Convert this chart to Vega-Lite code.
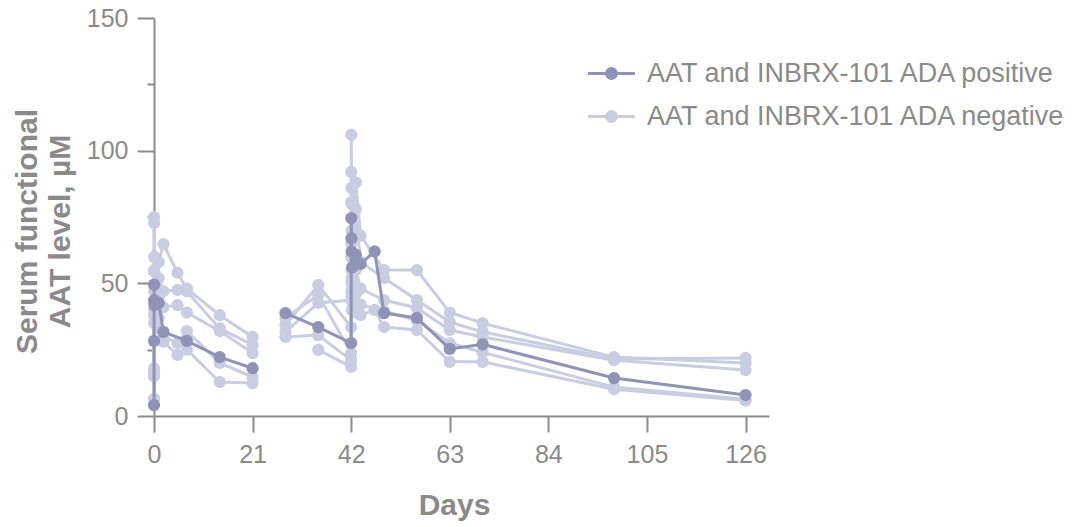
{
  "$schema": "https://vega.github.io/schema/vega-lite/v6.json",
  "width": 615,
  "height": 398,
  "autosize": {"type": "none"},
  "padding": {"left": 154, "top": 18, "right": 305, "bottom": 111},
  "background": "white",
  "config": {
    "view": {"stroke": null},
    "font": "Liberation Sans",
    "axis": {
      "domainColor": "#8c8c8c",
      "domainWidth": 2,
      "tickColor": "#8c8c8c",
      "tickWidth": 2,
      "grid": false,
      "labelFlush": false,
      "labelFont": "Liberation Sans",
      "labelFontSize": 25,
      "labelColor": "#8a8a8a",
      "titleFont": "Liberation Sans",
      "titleFontSize": 30,
      "titleFontWeight": "bold",
      "titleColor": "#8a8a8a"
    }
  },
  "data": {
    "values": [
      {"g": "Pa", "s": "AAT and INBRX-101 ADA positive", "d": 0, "v": 4.1},
      {"g": "Pa", "s": "AAT and INBRX-101 ADA positive", "d": 0.01, "v": 28.3},
      {"g": "Pa", "s": "AAT and INBRX-101 ADA positive", "d": 0.02, "v": 49.5},
      {"g": "Pa", "s": "AAT and INBRX-101 ADA positive", "d": 0.04, "v": 43.7},
      {"g": "Pa", "s": "AAT and INBRX-101 ADA positive", "d": 0.08, "v": 41.8},
      {"g": "Pa", "s": "AAT and INBRX-101 ADA positive", "d": 1, "v": 42.6},
      {"g": "Pa", "s": "AAT and INBRX-101 ADA positive", "d": 2, "v": 31.7},
      {"g": "Pa", "s": "AAT and INBRX-101 ADA positive", "d": 7, "v": 28.3},
      {"g": "Pa", "s": "AAT and INBRX-101 ADA positive", "d": 14, "v": 22.2},
      {"g": "Pa", "s": "AAT and INBRX-101 ADA positive", "d": 21, "v": 18},
      {"g": "Pb", "s": "AAT and INBRX-101 ADA positive", "d": 28, "v": 38.8},
      {"g": "Pb", "s": "AAT and INBRX-101 ADA positive", "d": 35, "v": 33.5},
      {"g": "Pb", "s": "AAT and INBRX-101 ADA positive", "d": 42, "v": 27.5},
      {"g": "Pb", "s": "AAT and INBRX-101 ADA positive", "d": 42.02, "v": 74.6},
      {"g": "Pb", "s": "AAT and INBRX-101 ADA positive", "d": 42.05, "v": 67},
      {"g": "Pb", "s": "AAT and INBRX-101 ADA positive", "d": 42.1, "v": 62},
      {"g": "Pb", "s": "AAT and INBRX-101 ADA positive", "d": 42.2, "v": 56},
      {"g": "Pb", "s": "AAT and INBRX-101 ADA positive", "d": 43, "v": 60.7},
      {"g": "Pb", "s": "AAT and INBRX-101 ADA positive", "d": 44, "v": 57.3},
      {"g": "Pb", "s": "AAT and INBRX-101 ADA positive", "d": 47, "v": 62},
      {"g": "Pb", "s": "AAT and INBRX-101 ADA positive", "d": 49, "v": 38.8},
      {"g": "Pb", "s": "AAT and INBRX-101 ADA positive", "d": 56, "v": 37},
      {"g": "Pb", "s": "AAT and INBRX-101 ADA positive", "d": 63, "v": 25.3},
      {"g": "Pb", "s": "AAT and INBRX-101 ADA positive", "d": 70, "v": 27},
      {"g": "Pb", "s": "AAT and INBRX-101 ADA positive", "d": 98, "v": 14.3},
      {"g": "Pb", "s": "AAT and INBRX-101 ADA positive", "d": 126, "v": 7.9},

      {"g": "N1a", "s": "AAT and INBRX-101 ADA negative", "d": 0, "v": 17},
      {"g": "N1a", "s": "AAT and INBRX-101 ADA negative", "d": 0.02, "v": 75},
      {"g": "N1a", "s": "AAT and INBRX-101 ADA negative", "d": 0.04, "v": 60},
      {"g": "N1a", "s": "AAT and INBRX-101 ADA negative", "d": 1, "v": 58},
      {"g": "N1a", "s": "AAT and INBRX-101 ADA negative", "d": 2, "v": 64.8},
      {"g": "N1a", "s": "AAT and INBRX-101 ADA negative", "d": 5, "v": 54},
      {"g": "N1a", "s": "AAT and INBRX-101 ADA negative", "d": 7, "v": 48},
      {"g": "N1a", "s": "AAT and INBRX-101 ADA negative", "d": 14, "v": 38},
      {"g": "N1a", "s": "AAT and INBRX-101 ADA negative", "d": 21, "v": 29.8},
      {"g": "N2a", "s": "AAT and INBRX-101 ADA negative", "d": 0, "v": 15.5},
      {"g": "N2a", "s": "AAT and INBRX-101 ADA negative", "d": 0.02, "v": 72.7},
      {"g": "N2a", "s": "AAT and INBRX-101 ADA negative", "d": 0.04, "v": 55},
      {"g": "N2a", "s": "AAT and INBRX-101 ADA negative", "d": 1, "v": 52},
      {"g": "N2a", "s": "AAT and INBRX-101 ADA negative", "d": 2, "v": 47},
      {"g": "N2a", "s": "AAT and INBRX-101 ADA negative", "d": 5, "v": 47.5},
      {"g": "N2a", "s": "AAT and INBRX-101 ADA negative", "d": 7, "v": 47},
      {"g": "N2a", "s": "AAT and INBRX-101 ADA negative", "d": 14, "v": 33},
      {"g": "N2a", "s": "AAT and INBRX-101 ADA negative", "d": 21, "v": 26.8},
      {"g": "N3a", "s": "AAT and INBRX-101 ADA negative", "d": 0, "v": 6.5},
      {"g": "N3a", "s": "AAT and INBRX-101 ADA negative", "d": 0.02, "v": 54.5},
      {"g": "N3a", "s": "AAT and INBRX-101 ADA negative", "d": 0.04, "v": 47},
      {"g": "N3a", "s": "AAT and INBRX-101 ADA negative", "d": 1, "v": 45},
      {"g": "N3a", "s": "AAT and INBRX-101 ADA negative", "d": 2, "v": 41},
      {"g": "N3a", "s": "AAT and INBRX-101 ADA negative", "d": 5, "v": 41.8},
      {"g": "N3a", "s": "AAT and INBRX-101 ADA negative", "d": 7, "v": 39},
      {"g": "N3a", "s": "AAT and INBRX-101 ADA negative", "d": 14, "v": 32},
      {"g": "N3a", "s": "AAT and INBRX-101 ADA negative", "d": 21, "v": 23.7},
      {"g": "N4a", "s": "AAT and INBRX-101 ADA negative", "d": 0, "v": 18},
      {"g": "N4a", "s": "AAT and INBRX-101 ADA negative", "d": 0.02, "v": 43},
      {"g": "N4a", "s": "AAT and INBRX-101 ADA negative", "d": 0.04, "v": 38},
      {"g": "N4a", "s": "AAT and INBRX-101 ADA negative", "d": 1, "v": 37},
      {"g": "N4a", "s": "AAT and INBRX-101 ADA negative", "d": 2, "v": 30},
      {"g": "N4a", "s": "AAT and INBRX-101 ADA negative", "d": 5, "v": 27.5},
      {"g": "N4a", "s": "AAT and INBRX-101 ADA negative", "d": 7, "v": 32},
      {"g": "N4a", "s": "AAT and INBRX-101 ADA negative", "d": 14, "v": 20},
      {"g": "N4a", "s": "AAT and INBRX-101 ADA negative", "d": 21, "v": 14.7},
      {"g": "N5a", "s": "AAT and INBRX-101 ADA negative", "d": 0, "v": 15},
      {"g": "N5a", "s": "AAT and INBRX-101 ADA negative", "d": 0.02, "v": 40},
      {"g": "N5a", "s": "AAT and INBRX-101 ADA negative", "d": 0.04, "v": 35},
      {"g": "N5a", "s": "AAT and INBRX-101 ADA negative", "d": 1, "v": 33},
      {"g": "N5a", "s": "AAT and INBRX-101 ADA negative", "d": 2, "v": 28},
      {"g": "N5a", "s": "AAT and INBRX-101 ADA negative", "d": 5, "v": 23},
      {"g": "N5a", "s": "AAT and INBRX-101 ADA negative", "d": 7, "v": 25},
      {"g": "N5a", "s": "AAT and INBRX-101 ADA negative", "d": 14, "v": 12.8},
      {"g": "N5a", "s": "AAT and INBRX-101 ADA negative", "d": 21, "v": 12.4},

      {"g": "N1b", "s": "AAT and INBRX-101 ADA negative", "d": 28, "v": 31.7},
      {"g": "N1b", "s": "AAT and INBRX-101 ADA negative", "d": 35, "v": 42.6},
      {"g": "N1b", "s": "AAT and INBRX-101 ADA negative", "d": 42, "v": 43.7},
      {"g": "N1b", "s": "AAT and INBRX-101 ADA negative", "d": 42.02, "v": 106},
      {"g": "N1b", "s": "AAT and INBRX-101 ADA negative", "d": 42.05, "v": 86},
      {"g": "N1b", "s": "AAT and INBRX-101 ADA negative", "d": 42.1, "v": 70},
      {"g": "N1b", "s": "AAT and INBRX-101 ADA negative", "d": 43, "v": 88},
      {"g": "N1b", "s": "AAT and INBRX-101 ADA negative", "d": 44, "v": 68},
      {"g": "N1b", "s": "AAT and INBRX-101 ADA negative", "d": 49, "v": 55},
      {"g": "N1b", "s": "AAT and INBRX-101 ADA negative", "d": 56, "v": 55},
      {"g": "N1b", "s": "AAT and INBRX-101 ADA negative", "d": 63, "v": 39},
      {"g": "N1b", "s": "AAT and INBRX-101 ADA negative", "d": 70, "v": 35},
      {"g": "N1b", "s": "AAT and INBRX-101 ADA negative", "d": 98, "v": 22.2},
      {"g": "N1b", "s": "AAT and INBRX-101 ADA negative", "d": 126, "v": 20},
      {"g": "N2b", "s": "AAT and INBRX-101 ADA negative", "d": 28, "v": 34.3},
      {"g": "N2b", "s": "AAT and INBRX-101 ADA negative", "d": 35, "v": 49.4},
      {"g": "N2b", "s": "AAT and INBRX-101 ADA negative", "d": 42, "v": 33.5},
      {"g": "N2b", "s": "AAT and INBRX-101 ADA negative", "d": 42.02, "v": 92},
      {"g": "N2b", "s": "AAT and INBRX-101 ADA negative", "d": 42.05, "v": 80.6},
      {"g": "N2b", "s": "AAT and INBRX-101 ADA negative", "d": 42.1, "v": 60},
      {"g": "N2b", "s": "AAT and INBRX-101 ADA negative", "d": 43, "v": 78},
      {"g": "N2b", "s": "AAT and INBRX-101 ADA negative", "d": 44, "v": 58},
      {"g": "N2b", "s": "AAT and INBRX-101 ADA negative", "d": 49, "v": 52},
      {"g": "N2b", "s": "AAT and INBRX-101 ADA negative", "d": 56, "v": 43.7},
      {"g": "N2b", "s": "AAT and INBRX-101 ADA negative", "d": 63, "v": 35.4},
      {"g": "N2b", "s": "AAT and INBRX-101 ADA negative", "d": 70, "v": 31.7},
      {"g": "N2b", "s": "AAT and INBRX-101 ADA negative", "d": 98, "v": 21.5},
      {"g": "N2b", "s": "AAT and INBRX-101 ADA negative", "d": 126, "v": 21.9},
      {"g": "N3b", "s": "AAT and INBRX-101 ADA negative", "d": 28, "v": 37},
      {"g": "N3b", "s": "AAT and INBRX-101 ADA negative", "d": 35, "v": 45.6},
      {"g": "N3b", "s": "AAT and INBRX-101 ADA negative", "d": 42, "v": 23.7},
      {"g": "N3b", "s": "AAT and INBRX-101 ADA negative", "d": 42.02, "v": 80},
      {"g": "N3b", "s": "AAT and INBRX-101 ADA negative", "d": 42.05, "v": 65},
      {"g": "N3b", "s": "AAT and INBRX-101 ADA negative", "d": 42.1, "v": 52},
      {"g": "N3b", "s": "AAT and INBRX-101 ADA negative", "d": 43, "v": 55},
      {"g": "N3b", "s": "AAT and INBRX-101 ADA negative", "d": 44, "v": 48},
      {"g": "N3b", "s": "AAT and INBRX-101 ADA negative", "d": 49, "v": 43.7},
      {"g": "N3b", "s": "AAT and INBRX-101 ADA negative", "d": 56, "v": 40.7},
      {"g": "N3b", "s": "AAT and INBRX-101 ADA negative", "d": 63, "v": 32.4},
      {"g": "N3b", "s": "AAT and INBRX-101 ADA negative", "d": 70, "v": 29.8},
      {"g": "N3b", "s": "AAT and INBRX-101 ADA negative", "d": 98, "v": 21},
      {"g": "N3b", "s": "AAT and INBRX-101 ADA negative", "d": 126, "v": 17.3},
      {"g": "N4b", "s": "AAT and INBRX-101 ADA negative", "d": 28, "v": 29.8},
      {"g": "N4b", "s": "AAT and INBRX-101 ADA negative", "d": 35, "v": 30.5},
      {"g": "N4b", "s": "AAT and INBRX-101 ADA negative", "d": 42, "v": 21},
      {"g": "N4b", "s": "AAT and INBRX-101 ADA negative", "d": 42.02, "v": 60},
      {"g": "N4b", "s": "AAT and INBRX-101 ADA negative", "d": 42.05, "v": 50},
      {"g": "N4b", "s": "AAT and INBRX-101 ADA negative", "d": 42.1, "v": 45},
      {"g": "N4b", "s": "AAT and INBRX-101 ADA negative", "d": 43, "v": 46},
      {"g": "N4b", "s": "AAT and INBRX-101 ADA negative", "d": 44, "v": 42},
      {"g": "N4b", "s": "AAT and INBRX-101 ADA negative", "d": 49, "v": 39.5},
      {"g": "N4b", "s": "AAT and INBRX-101 ADA negative", "d": 56, "v": 36},
      {"g": "N4b", "s": "AAT and INBRX-101 ADA negative", "d": 63, "v": 27.5},
      {"g": "N4b", "s": "AAT and INBRX-101 ADA negative", "d": 70, "v": 24},
      {"g": "N4b", "s": "AAT and INBRX-101 ADA negative", "d": 98, "v": 10.9},
      {"g": "N4b", "s": "AAT and INBRX-101 ADA negative", "d": 126, "v": 6.3},
      {"g": "N5b", "s": "AAT and INBRX-101 ADA negative", "d": 35, "v": 24.9},
      {"g": "N5b", "s": "AAT and INBRX-101 ADA negative", "d": 42, "v": 18.5},
      {"g": "N5b", "s": "AAT and INBRX-101 ADA negative", "d": 42.02, "v": 55},
      {"g": "N5b", "s": "AAT and INBRX-101 ADA negative", "d": 42.05, "v": 47},
      {"g": "N5b", "s": "AAT and INBRX-101 ADA negative", "d": 42.1, "v": 40},
      {"g": "N5b", "s": "AAT and INBRX-101 ADA negative", "d": 43, "v": 39},
      {"g": "N5b", "s": "AAT and INBRX-101 ADA negative", "d": 44, "v": 38},
      {"g": "N5b", "s": "AAT and INBRX-101 ADA negative", "d": 47, "v": 40},
      {"g": "N5b", "s": "AAT and INBRX-101 ADA negative", "d": 49, "v": 33.5},
      {"g": "N5b", "s": "AAT and INBRX-101 ADA negative", "d": 56, "v": 32.4},
      {"g": "N5b", "s": "AAT and INBRX-101 ADA negative", "d": 63, "v": 20.4},
      {"g": "N5b", "s": "AAT and INBRX-101 ADA negative", "d": 70, "v": 20.4},
      {"g": "N5b", "s": "AAT and INBRX-101 ADA negative", "d": 98, "v": 10.1},
      {"g": "N5b", "s": "AAT and INBRX-101 ADA negative", "d": 126, "v": 5.8}
    ]
  },
  "encoding": {
    "x": {
      "field": "d",
      "type": "quantitative",
      "scale": {"domain": [0, 131], "nice": false, "zero": false},
      "axis": {
        "values": [0, 21, 42, 63, 84, 105, 126],
        "tickSize": 16,
        "labelPadding": 10,
        "title": "Days",
        "titleX": 300,
        "titleY": 89,
        "titleBaseline": "middle",
        "titleAlign": "center"
      }
    },
    "y": {
      "field": "v",
      "type": "quantitative",
      "scale": {"domain": [0, 150], "nice": false},
      "axis": {
        "values": [0, 25, 50, 75, 100, 125, 150],
        "labelExpr": "datum.value % 50 == 0 ? datum.label : ''",
        "tickSize": {"condition": {"test": "datum.value % 50 == 0", "value": 17}, "value": 7},
        "labelPadding": 9,
        "title": ["Serum functional", "AAT level, µM"],
        "titleAngle": -90,
        "titleX": -127,
        "titleY": 213,
        "titleBaseline": "middle",
        "titleAlign": "center",
        "titleLineHeight": 33
      }
    },
    "color": {
      "field": "s",
      "type": "nominal",
      "scale": {
        "domain": ["AAT and INBRX-101 ADA positive", "AAT and INBRX-101 ADA negative"],
        "range": ["#8f93b5", "#c9cde2"]
      },
      "legend": {
        "title": null,
        "orient": "none",
        "legendX": 440,
        "legendY": 38,
        "padding": 0,
        "labelFont": "Liberation Sans",
        "labelFontSize": 27,
        "labelColor": "#8a8a8a",
        "labelLimit": 0,
        "labelOffset": 18,
        "rowPadding": 12,
        "symbolType": "M-1.5,0H1.5M-0.32,0A0.32,0.32 0 1,0 0.32,0A0.32,0.32 0 1,0 -0.32,0Z",
        "symbolSize": 980,
        "symbolStrokeWidth": 3,
        "symbolOpacity": 1,
        "encode": {
          "symbols": {
            "update": {
              "fill": {"scale": "color", "field": "value"},
              "stroke": {"scale": "color", "field": "value"}
            }
          }
        }
      }
    },
    "detail": {"field": "g", "type": "nominal"}
  },
  "layer": [
    {
      "transform": [{"filter": "datum.s == 'AAT and INBRX-101 ADA negative'"}],
      "layer": [
        {"mark": {"type": "line", "strokeWidth": 3}},
        {"mark": {"type": "point", "filled": true, "size": 150, "opacity": 1}}
      ]
    },
    {
      "transform": [{"filter": "datum.s == 'AAT and INBRX-101 ADA positive'"}],
      "layer": [
        {"mark": {"type": "line", "strokeWidth": 3}},
        {"mark": {"type": "point", "filled": true, "size": 150, "opacity": 1}}
      ]
    }
  ]
}
